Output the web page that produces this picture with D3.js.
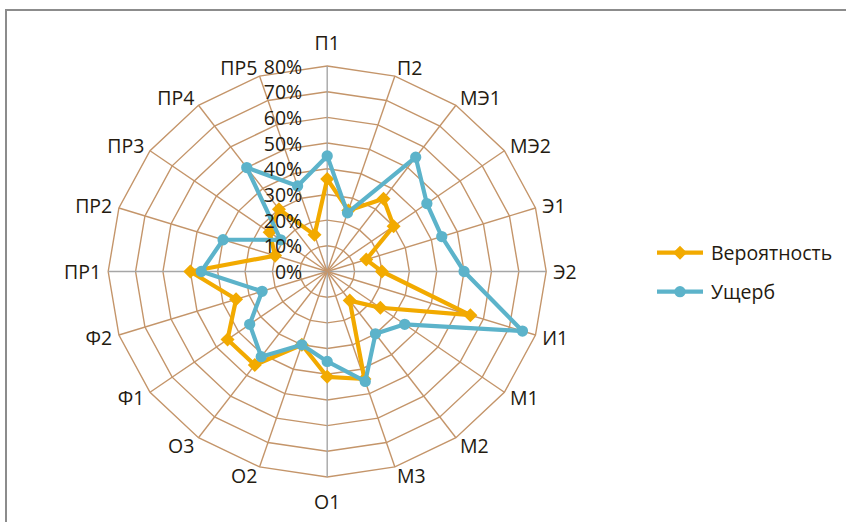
<!DOCTYPE html>
<html>
<head>
<meta charset="utf-8">
<script src="https://cdn.jsdelivr.net/npm/d3@7"></script>
<style>
  html, body { margin: 0; padding: 0; background: #fff; }
  svg text { font-family: "Open Sans", "Noto Sans", sans-serif; fill: #241a10; }
</style>
</head>
<body>
<svg id="chart" width="846" height="522"></svg>
<script>
// Risk categories around the radar, clockwise from the top
const categories = ['П1','П2','МЭ1','МЭ2','Э1','Э2','И1','М1','М2','М3','О1','О2','О3','Ф1','Ф2','ПР1','ПР2','ПР3','ПР4','ПР5'];
// Series values (share, 0..1)
const probability = [0.36,0.25,0.35,0.30,0.15,0.20,0.55,0.24,0.14,0.44,0.41,0.30,0.45,0.45,0.35,0.50,0.20,0.26,0.30,0.15];
const damage      = [0.45,0.24,0.55,0.45,0.44,0.50,0.75,0.35,0.30,0.45,0.35,0.30,0.41,0.35,0.25,0.46,0.40,0.21,0.50,0.35];
const seriesNames = ['Вероятность','Ущерб'];
const tickValues  = [0,0.1,0.2,0.3,0.4,0.5,0.6,0.7,0.8];

const svg = d3.select('#chart');
const cx = 327.2, cy = 271.5;
const rMax = 0.8;
const fontSize = 19.5;
// Plot area is slightly wider than tall
const rx = d3.scaleLinear().domain([0, rMax]).range([0, 219]);
const ry = d3.scaleLinear().domain([0, rMax]).range([0, 205.5]);
const angle = d3.scaleLinear().domain([0, categories.length]).range([0, 2*Math.PI]);
const pt = (i, v) => [cx + Math.sin(angle(i))*rx(v), cy - Math.cos(angle(i))*ry(v)];

const orange = '#f2aa00', blue = '#5cb3ca', gridCol = '#c4956a', axisCol = '#a6a6a6';

// chart frame
svg.append('path').attr('d', `M6,522 V10 H846`).attr('fill','none')
  .attr('stroke','#8c8c8c').attr('stroke-width',2);

// polygonal rings
const ringLine = d3.line();
tickValues.slice(1).forEach(t => {
  const pts = categories.map((c,i) => pt(i,t));
  svg.append('path').attr('d', ringLine(pts) + 'Z').attr('fill','none')
    .attr('stroke', gridCol).attr('stroke-width',1.4);
});
// spokes; the four main directions are drawn grey
categories.forEach((c,i) => {
  const [x,y] = pt(i, rMax);
  const main = i % 5 === 0;
  svg.append('line').attr('x1',cx).attr('y1',cy).attr('x2',x).attr('y2',y)
    .attr('stroke', main ? axisCol : gridCol).attr('stroke-width', 1.4);
});

// series
function drawSeries(vals, color, marker) {
  const pts = vals.map((v,i) => pt(i,v));
  svg.append('path').attr('d', d3.line()(pts) + 'Z').attr('fill','none')
    .attr('stroke', color).attr('stroke-width', 4.2).attr('stroke-linejoin','round');
  svg.selectAll(null).data(pts).enter().append('path')
    .attr('transform', d => `translate(${d[0]},${d[1]})`)
    .attr('d', d3.symbol().type(marker).size(marker === d3.symbolDiamond2 ? 125 : 100))
    .attr('fill', color);
}
drawSeries(probability, orange, d3.symbolDiamond2);
drawSeries(damage, blue, d3.symbolCircle);

// category labels
categories.forEach((c,i) => {
  const a = angle(i);
  const [x,y] = pt(i, rMax);
  const s = Math.sin(a), co = Math.cos(a);
  let anchor = 'middle', tx = x, ty = y;
  if (Math.abs(s) < 0.01) { ty = y - co*24; }
  else { anchor = s > 0 ? 'start' : 'end'; tx = x + s*7; ty = y - co*9; }
  svg.append('text').attr('x',tx).attr('y',ty).attr('text-anchor',anchor)
    .attr('dominant-baseline','central').attr('font-size',fontSize).text(c);
});

// radial tick labels along the top axis
tickValues.forEach(t => {
  svg.append('text').attr('x', cx - 25).attr('y', cy - ry(t))
    .attr('text-anchor','end').attr('dominant-baseline','central')
    .attr('font-size',fontSize).text(d3.format('.0%')(t));
});

// legend
const legend = [[seriesNames[0], orange, d3.symbolDiamond2, 252.7],[seriesNames[1], blue, d3.symbolCircle, 291.7]];
legend.forEach(([name,color,marker,y]) => {
  svg.append('line').attr('x1',657).attr('x2',703).attr('y1',y).attr('y2',y)
    .attr('stroke',color).attr('stroke-width',4.2);
  svg.append('path').attr('transform',`translate(680,${y})`)
    .attr('d', d3.symbol().type(marker).size(marker === d3.symbolDiamond2 ? 125 : 100)).attr('fill',color);
  svg.append('text').attr('x',711).attr('y',y).attr('dominant-baseline','central')
    .attr('font-size',fontSize).text(name);
});
</script>
</body>
</html>
